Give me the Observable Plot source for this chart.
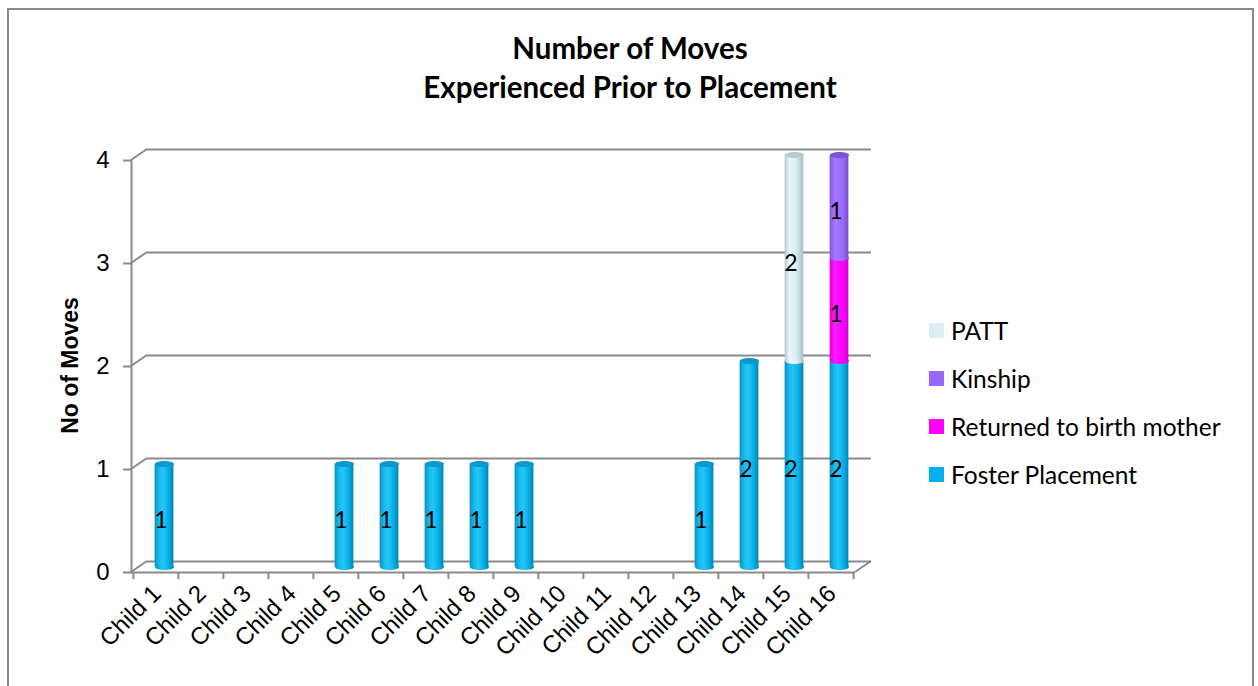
<!DOCTYPE html>
<html><head><meta charset="utf-8">
<script src="https://cdn.jsdelivr.net/npm/d3@7"></script>
<script src="https://cdn.jsdelivr.net/npm/@observablehq/plot@0.6"></script>
<style>
body{margin:0;background:#fff;}
#wrap{position:relative;width:1258px;height:686px;overflow:hidden;background:#fff;}
#wrap svg{position:absolute;left:0;top:0;}
#border{position:absolute;left:7px;top:8px;width:1243px;height:720px;border:2px solid #8a8a8a;border-bottom:none;pointer-events:none;}
#title{position:absolute;left:0;width:1260px;top:28px;text-align:center;font-family:Lato,sans-serif;font-weight:bold;font-size:29.5px;line-height:39px;color:#000;}
#legend{position:absolute;left:929px;top:0;font-family:Lato,sans-serif;font-size:24.5px;color:#000;}
.row{position:absolute;left:0;white-space:nowrap;display:flex;align-items:center;height:30px;}
.sw{width:15px;height:15px;margin-right:7px;}
</style></head>
<body>
<div id="wrap">
  <div id="chart"></div>
  <div id="title">Number of Moves<br>Experienced Prior to Placement</div>
  <div id="legend"></div>
  <div id="border"></div>
</div>
<script>
const children = ["Child 1","Child 2","Child 3","Child 4","Child 5","Child 6","Child 7","Child 8","Child 9","Child 10","Child 11","Child 12","Child 13","Child 14","Child 15","Child 16"];
const series = ["Foster Placement","Returned to birth mother","Kinship","PATT"];
const foster   = [1,0,0,0,1,1,1,1,1,0,0,0,1,2,2,2];
const returned = [0,0,0,0,0,0,0,0,0,0,0,0,0,0,0,1];
const kinship  = [0,0,0,0,0,0,0,0,0,0,0,0,0,0,0,1];
const patt     = [0,0,0,0,0,0,0,0,0,0,0,0,0,0,2,0];
const yTicks = [0,1,2,3,4];
const legendOrder = ["PATT","Kinship","Returned to birth mother","Foster Placement"];
const colors = {"Foster Placement":"#00B0F0","Returned to birth mother":"#FF00FF","Kinship":"#9966FF","PATT":"#DAEEF3"};

const seriesValues = [foster, returned, kinship, patt];
const gradients = [
  [[0,"#0790c4"],[0.25,"#17bcef"],[0.45,"#25c7f6"],[0.75,"#06ade7"],[1,"#0083b2"]],
  [[0,"#dc00dc"],[0.3,"#ff1cff"],[0.7,"#ff00ff"],[1,"#cf00cf"]],
  [[0,"#8656e6"],[0.3,"#a97aff"],[0.7,"#9b69fc"],[1,"#7a4bcc"]],
  [[0,"#b2c9cf"],[0.25,"#e8f7fb"],[0.6,"#dcf0f5"],[1,"#a6bfc5"]]
];
const capColors = ["#0b98cf","#d000d0","#7f52da","#b5cbd0"];

const data = [];
children.forEach((c, i) => seriesValues.forEach((vals, j) => {
  if (vals[i] > 0) data.push({child: c, series: series[j], key: j, value: vals[i]});
}));
const tops = [];
children.forEach((c, i) => {
  let total = 0, top = -1;
  seriesValues.forEach((vals, j) => { if (vals[i] > 0) { total += vals[i]; top = j; } });
  if (total > 0) tops.push({child: c, total, key: top});
});

const W = 1258, H = 686, ML = 131, MR = 403, MT = 160, MB = 114;
const bw = (W - ML - MR) / children.length;
const depthX = 16, depthY = -11;
const barW = 19;
const inset = (bw - barW) / 2;
const bdx = depthX / 2 + 0.5, bdy = depthY / 2;
const grid = "#8a8a8a";

const ellipse = {
  draw(ctx, size) {
    const rx = Math.sqrt(size / Math.PI), ry = rx * 0.32, k = 0.5523;
    ctx.moveTo(rx, 0);
    ctx.bezierCurveTo(rx, ry * k, rx * k, ry, 0, ry);
    ctx.bezierCurveTo(-rx * k, ry, -rx, ry * k, -rx, 0);
    ctx.bezierCurveTo(-rx, -ry * k, -rx * k, -ry, 0, -ry);
    ctx.bezierCurveTo(rx * k, -ry, rx, -ry * k, rx, 0);
    ctx.closePath();
  }
};

function depthEdges(index, scales, values, dim) {
  const g = d3.create("svg:g").attr("stroke", grid).attr("stroke-width", 2).attr("fill", "none");
  const x0 = dim.marginLeft, x1 = dim.width - dim.marginRight;
  yTicks.forEach(v => {
    const y = scales.y(v);
    g.append("line").attr("x1", x0).attr("y1", y).attr("x2", x0 + depthX).attr("y2", y + depthY);
  });
  const y0 = scales.y(0);
  g.append("line").attr("x1", x1).attr("y1", y0).attr("x2", x1 + depthX).attr("y2", y0 + depthY);
  return g.node();
}

const fillOf = d => `url(#cyl${d.key})`;

const svg = Plot.plot({
  width: W, height: H,
  marginLeft: ML, marginRight: MR, marginTop: MT, marginBottom: MB,
  style: {background: "transparent", fontFamily: "Liberation Sans, Arial, sans-serif", color: "#000"},
  x: {type: "band", domain: children, padding: 0},
  y: {domain: [0, 4]},
  color: {type: "identity"},
  marks: [
    Plot.ruleY(yTicks, {stroke: grid, strokeWidth: 2, dx: depthX, dy: depthY}),
    depthEdges,
    Plot.ruleY([0], {stroke: grid, strokeWidth: 2}),
    Plot.frame({anchor: "left", stroke: grid, strokeWidth: 2}),
    Plot.axisX({ticks: children, tickSize: 7, tickFormat: () => "", label: null, stroke: grid, strokeWidth: 2, dx: -bw / 2}),
    Plot.axisX({ticks: [children[children.length - 1]], tickSize: 7, tickFormat: () => "", label: null, stroke: grid, strokeWidth: 2, dx: bw / 2}),
    Plot.axisX({tickSize: 0, tickRotate: -45, tickPadding: 17, fontSize: 24, fill: "#000", label: null, dx: 1}),
    Plot.axisY({ticks: yTicks, tickFormat: d3.format("d"), tickSize: 8, tickPadding: 14, fontSize: 24, stroke: grid, strokeWidth: 2, fill: "#000", label: null}),
    Plot.text(["No of Moves"], {frameAnchor: "left", textAnchor: "middle", rotate: -90, dx: -61, dy: -1, fontWeight: "bold", fontSize: 23, fill: "#000"}),
    Plot.barY(data, Plot.stackY({x: "child", y: "value", fill: fillOf, insetLeft: inset, insetRight: inset, dx: bdx, dy: bdy})),
    Plot.dot(data, Plot.stackY1({x: "child", y: "value", fill: fillOf, stroke: "none", symbol: ellipse, r: barW / 2, dx: bdx, dy: bdy})),
    Plot.dot(tops, {x: "child", y: "total", fill: d => capColors[d.key], stroke: "none", symbol: ellipse, r: barW / 2, dx: bdx, dy: bdy}),
    Plot.text(data, Plot.stackY({x: "child", y: "value", text: d => String(d.value), dx: 5, fontSize: 23, fontFamily: "Lato, sans-serif", fill: "#000"}))
  ]
});

const defs = d3.select(svg).insert("defs", ":first-child");
gradients.forEach((stops, j) => {
  const g = defs.append("linearGradient").attr("id", "cyl" + j).attr("x1", 0).attr("x2", 1).attr("y1", 0).attr("y2", 0);
  stops.forEach(([o, c]) => g.append("stop").attr("offset", o).attr("stop-color", c));
});
document.getElementById("chart").appendChild(svg);

const legend = d3.select("#legend");
legendOrder.forEach((s, i) => {
  const row = legend.append("div").attr("class", "row").style("top", (330 + i * 48 - 15) + "px");
  row.append("div").attr("class", "sw").style("background", colors[s]);
  row.append("span").text(s);
});
</script>
</body></html>
